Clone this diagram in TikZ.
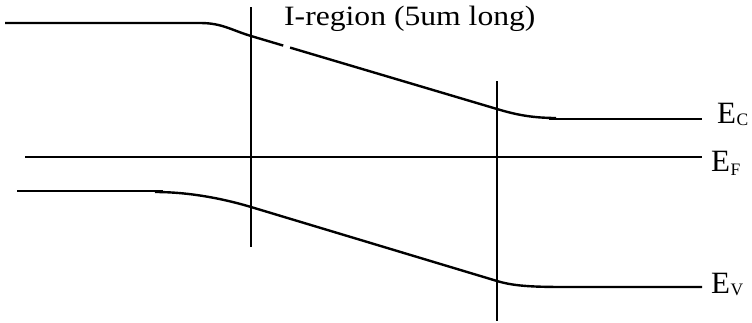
\documentclass[tikz,border=0pt]{standalone}
\usepackage{fontspec}
\setmainfont{Liberation Serif}
\usetikzlibrary{calc}
\begin{document}
\begin{tikzpicture}[x=1pt,y=-1pt,
  band/.style={line width=2.4pt},
  divider/.style={line width=1.8pt},
  lbl/.style={inner sep=0pt,anchor=base west,font=\fontsize{31}{33}\selectfont},
  sub/.style={inner sep=0pt,anchor=base west,font=\fontsize{17.5}{18}\selectfont}]
\useasboundingbox (0,0) rectangle (752,322);
% coordinates
\coordinate (c0) at (5,23);
\coordinate (c1) at (200,23);
\coordinate (c2) at (251,36);
\coordinate (c3) at (497,109);
\coordinate (c4) at (556,118);
\coordinate (c5) at (549,119);
\coordinate (c6) at (702,119);
\coordinate (f0) at (25,157);
\coordinate (f1) at (702,157);
\coordinate (v0) at (17,191);
\coordinate (v1) at (163,191);
\coordinate (v2) at (155,192);
\coordinate (v3) at (251,207);
\coordinate (v4) at (497,281);
\coordinate (v5) at (565,287);
\coordinate (v6) at (702,287);
\coordinate (l1a) at (251,7);
\coordinate (l1b) at (251,247);
\coordinate (l2a) at (497,81);
\coordinate (l2b) at (497,321);
% dividers
\draw[divider] (l1a) -- (l1b);
\draw[divider] (l2a) -- (l2b);
% conduction band
\draw[band] (c0) -- (c1) .. controls (222,23) and (231,30) .. (c2)
  -- ($(c2)!0.131!(c3)$);
\draw[band] ($(c2)!0.159!(c3)$) -- (c3) .. controls (513,113.8) and (530,118) .. (c4);
\draw[band] (c5) -- (c6);
% Fermi level
\draw[band] (f0) -- (f1);
% valence band
\draw[band] (v0) -- (v1);
\draw[band] (v2) .. controls (195,192) and (231,201) .. (v3) -- (v4)
  .. controls (513,285.8) and (530,287) .. (v5) -- (v6);
% labels
\node[inner sep=0pt,anchor=base west] (title) at (284,25.5)
  {\scalebox{1.13}[1]{\fontsize{28}{30}\selectfont I-region (5um long)}};
\node[lbl] (ec) at (717,123) {E};
\node[sub] (ecs) at (ec.base east) [yshift=-2pt] {C};
\node[lbl] (ef) at (711,171) {E};
\node[sub] (efs) at (ef.base east) [yshift=-4pt] {F};
\node[lbl] (ev) at (711,293) {E};
\node[sub] (evs) at (ev.base east) [yshift=-2pt] {V};
\end{tikzpicture}
\end{document}
